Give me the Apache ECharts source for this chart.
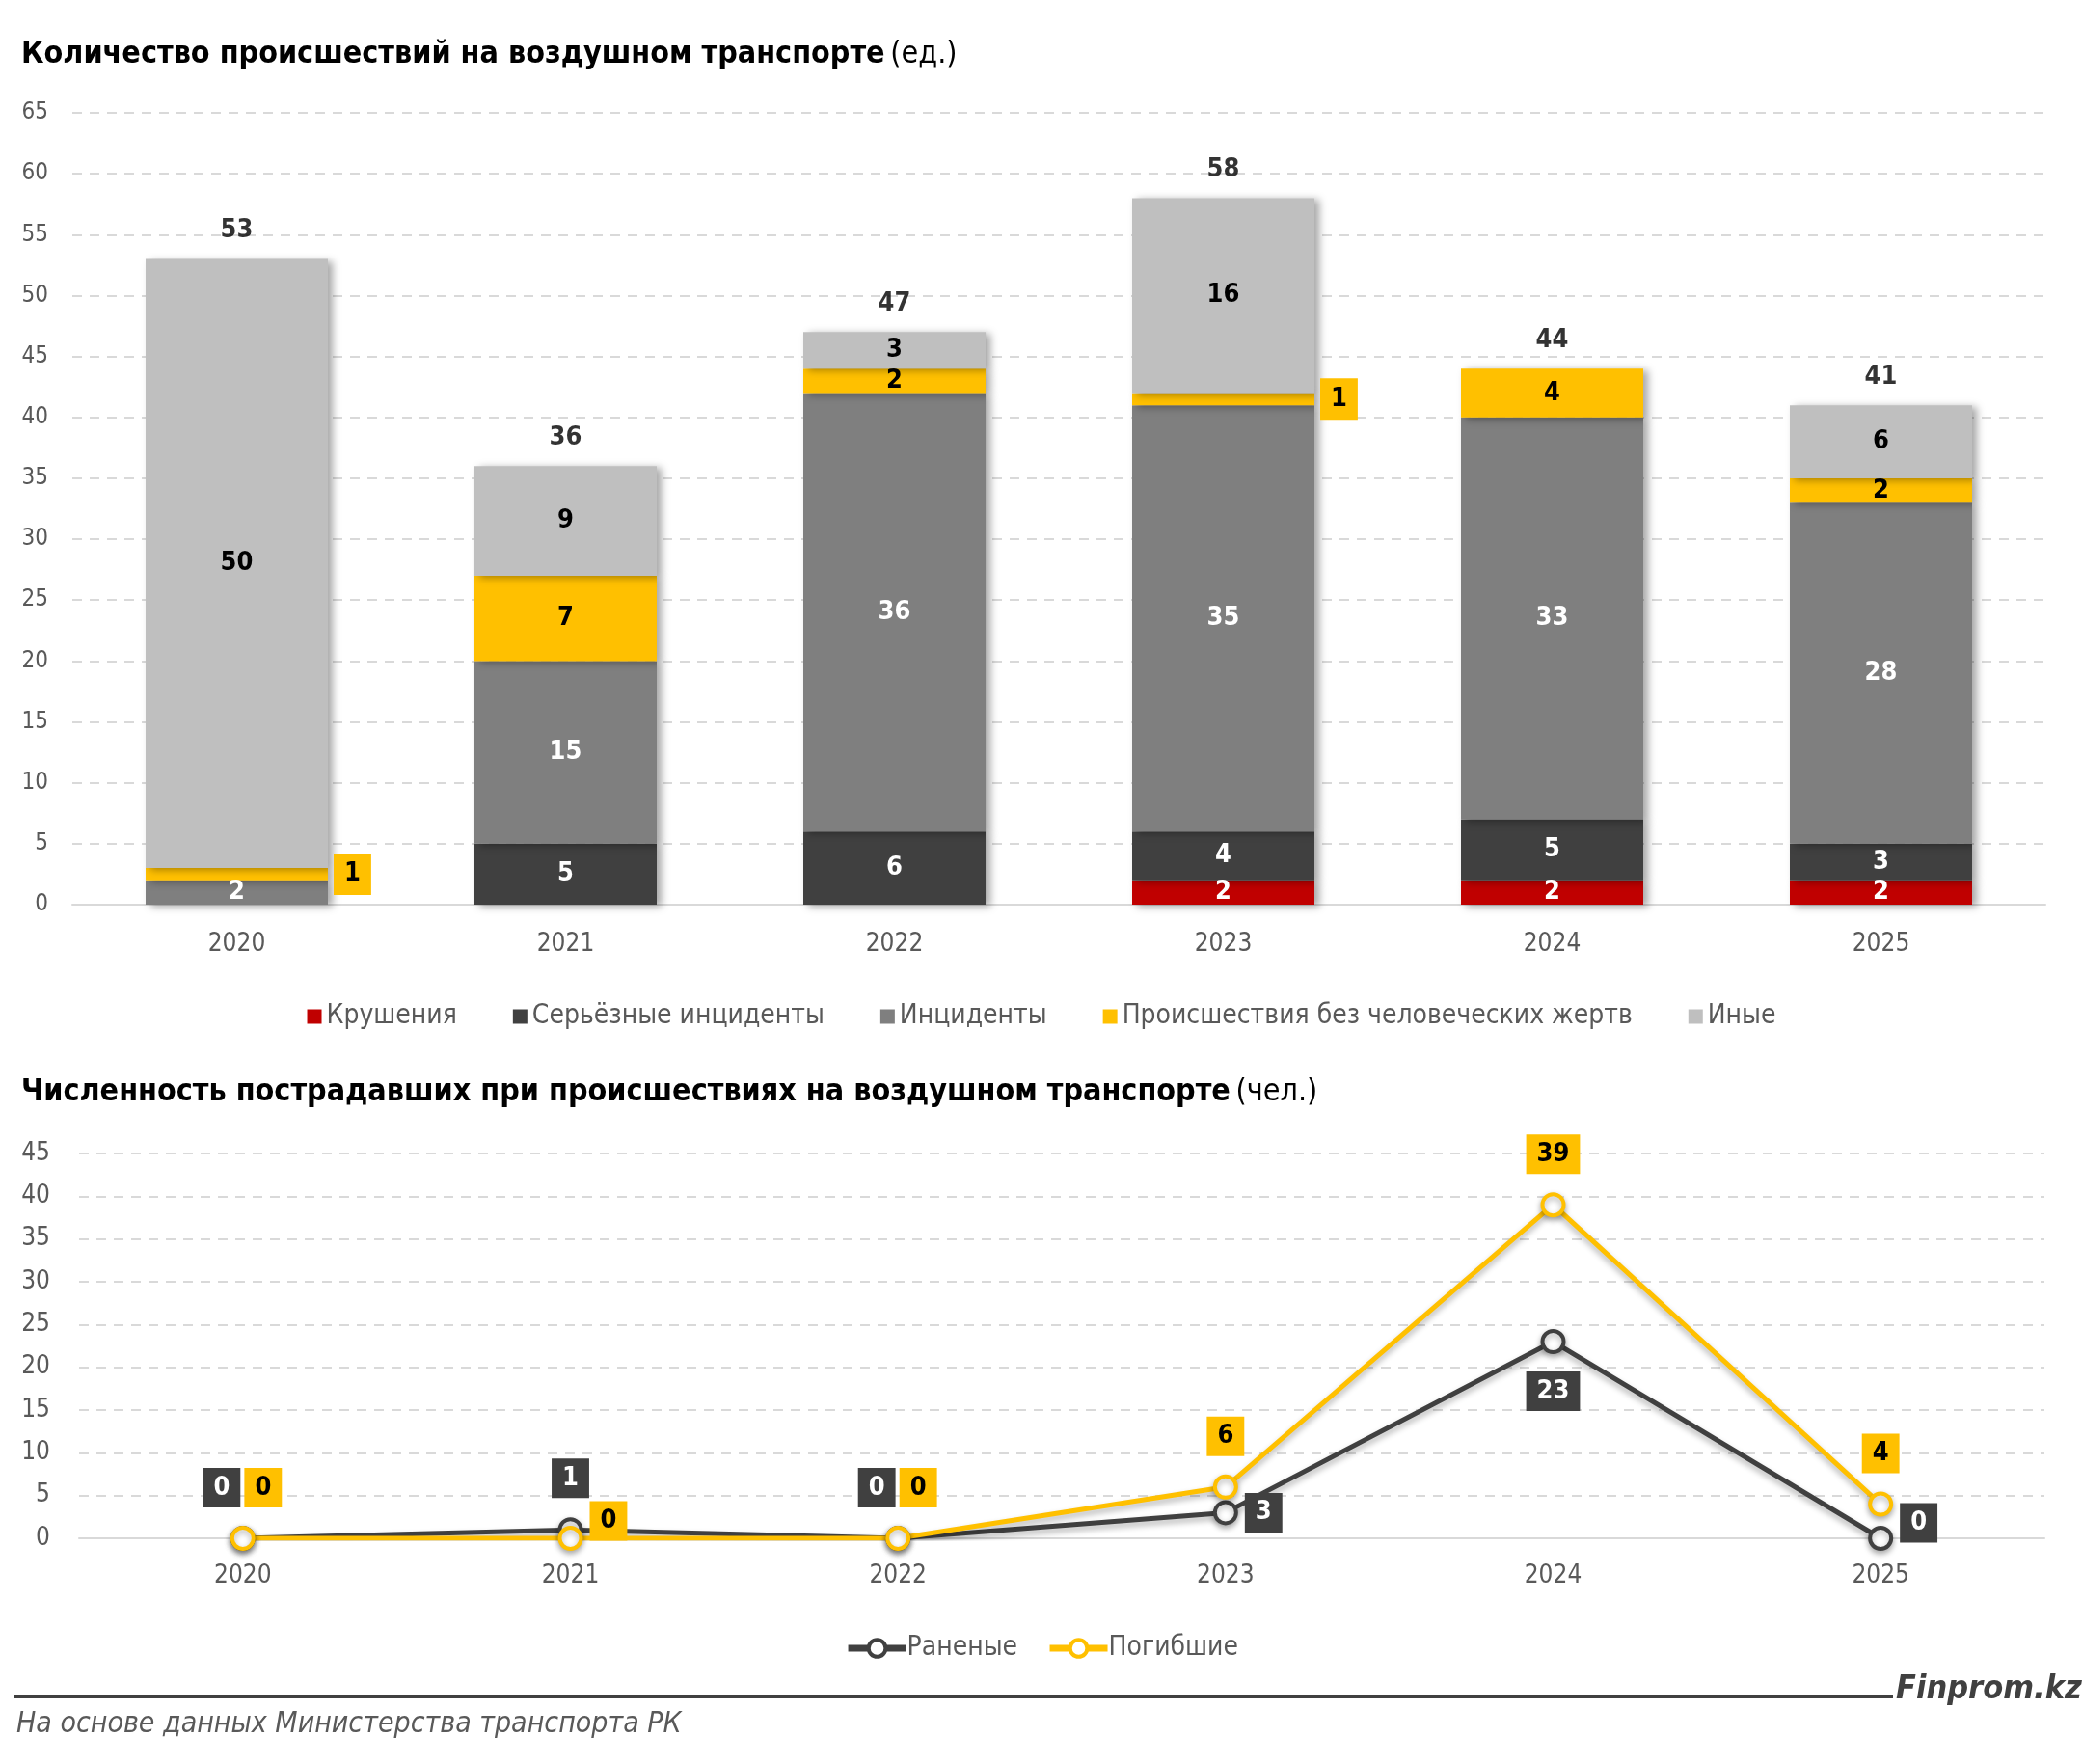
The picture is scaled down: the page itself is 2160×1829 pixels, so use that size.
<!DOCTYPE html>
<html>
<head>
<meta charset="utf-8">
<script src="https://cdn.jsdelivr.net/npm/echarts@6/dist/echarts.min.js"></script>
<style>
html,body{margin:0;padding:0;background:#fff;}
#c{width:2160px;height:1829px;}
</style>
</head>
<body>
<div id="c"></div>
<script>
const years = ['2020','2021','2022','2023','2024','2025'];
const crashes = [0,0,0,2,2,2];
const seriousIncidents = [0,5,6,4,5,3];
const incidents = [2,15,36,35,33,28];
const noCasualties = [1,7,2,1,4,2];
const others = [50,9,3,16,0,6];
const totals = [53,36,47,58,44,41];
const injured = [0,1,0,3,23,0];
const killed = [0,0,0,6,39,4];
const barTicks = {min:0,max:65,interval:5};
const lineTicks = {min:0,max:45,interval:5};

const FONT = '"Liberation Sans Narrow","DejaVu Sans Condensed","Open Sans",sans-serif';
const GRAY = '#595959';
const C_RED='#C00000', C_DARK='#404040', C_MID='#7F7F7F', C_YEL='#FFC000', C_LIGHT='#BFBFBF';

const shadow = {shadowColor:'rgba(0,0,0,0.35)', shadowBlur:8, shadowOffsetX:5, shadowOffsetY:2};
function barSeries(name, data, color, txtColor, extra){
  return {
    name, type:'bar', stack:'a', xAxisIndex:0, yAxisIndex:0, barWidth:189,
    data: data.map((v,i)=> (extra && extra[i]) ? {value:v, label:extra[i]} : v),
    itemStyle:Object.assign({color}, shadow),
    label:{show:true, position:'inside', color:txtColor, fontFamily:FONT, fontWeight:'bold', fontSize:27,
      formatter:p=> p.value>0 ? p.value : ''},
    emphasis:{disabled:true}
  };
}
const outsideYellow = {position:'right', distance:6, backgroundColor:C_YEL, color:'#000', padding:[8,11]};
const noCasExtra = [outsideYellow,null,null,outsideYellow,null,null];

const injLabelPos = [
  {position:'top', offset:[-22,0], distance:19},
  {position:'top', distance:20},
  {position:'top', offset:[-22,0], distance:19},
  {position:'right', distance:7},
  {position:'bottom', distance:18},
  {position:'right', offset:[0,-16], distance:7}
];
const kilLabelPos = [
  {position:'top', offset:[21,0], distance:19},
  {position:'right', offset:[0,-18], distance:7},
  {position:'top', offset:[21,0], distance:19},
  {position:'top', distance:19},
  {position:'top', distance:19},
  {position:'top', distance:19}
];
function lineSeries(name, data, color, boxColor, txtColor, pos){
  return {
    name, type:'line', xAxisIndex:1, yAxisIndex:1,
    data: data.map((v,i)=>({value:v, label:pos[i]})),
    symbol:'circle', symbolSize:22,
    lineStyle:{color, width:5, shadowColor:'rgba(0,0,0,0.3)', shadowBlur:6, shadowOffsetY:4},
    itemStyle:{color:'#fff', borderColor:color, borderWidth:4, shadowColor:'rgba(0,0,0,0.3)', shadowBlur:6, shadowOffsetY:3},
    label:{show:true, backgroundColor:boxColor, color:txtColor, fontFamily:FONT, fontWeight:'bold', fontSize:27, padding:[7,11]},
    emphasis:{disabled:true}
  };
}

const titleRich = {
  b:{fontFamily:FONT, fontSize:32, fontWeight:'bold', color:'#000'},
  n:{fontFamily:FONT, fontSize:32, fontWeight:'normal', color:'#000'}
};

const chart = echarts.init(document.getElementById('c'));
const axisLbl = {color:GRAY, fontFamily:FONT, fontSize:26};
chart.setOption({
  animation:false,
  backgroundColor:'#fff',
  textStyle:{fontFamily:FONT},
  title:[
    {text:'{b|Количество происшествий на воздушном транспорте} {n|(ед.)}', left:17, top:36,
     textStyle:{rich:titleRich}},
    {text:'{b|Численность пострадавших при происшествиях на воздушном транспорте} {n|(чел.)}', left:17, top:1112,
     textStyle:{rich:titleRich}}
  ],
  graphic:[
    {type:'line', shape:{x1:14,y1:1759,x2:1963,y2:1759}, style:{stroke:'#404040', lineWidth:4}},
    {type:'text', x:1966, y:1752, style:{text:'Finprom.kz', fill:'#404040', font:'italic bold 34px '+FONT, textVerticalAlign:'middle'}},
    {type:'text', x:17, y:1788, style:{text:'На основе данных Министерства транспорта РК', fill:GRAY, font:'italic 30px '+FONT, textVerticalAlign:'middle'}}
  ],
  legend:[
    {data:['Крушения','Серьёзные инциденты','Инциденты','Происшествия без человеческих жертв','Иные'],
     left:'center', top:1035, icon:'rect', itemWidth:15, itemHeight:15, itemGap:58,
     textStyle:{color:GRAY, fontFamily:FONT, fontSize:28, padding:[0,0,0,0]}},
    {data:['Раненые','Погибшие'], left:'center', top:1690, itemWidth:60, itemHeight:22, itemGap:30,
     lineStyle:{width:7}, itemStyle:{borderWidth:4},
     textStyle:{color:GRAY, fontFamily:FONT, fontSize:28, padding:[0,0,0,-4]}}
  ],
  grid:[
    {left:75, right:39, top:117, bottom:891, containLabel:false},
    {left:82, right:40, top:1196, bottom:234, containLabel:false}
  ],
  xAxis:[
    {type:'category', gridIndex:0, data:years, axisTick:{show:false},
     axisLine:{lineStyle:{color:'#D9D9D9', width:2}}, axisLabel:Object.assign({margin:28}, axisLbl)},
    {type:'category', gridIndex:1, data:years, axisTick:{show:false},
     axisLine:{lineStyle:{color:'#D9D9D9', width:2}}, axisLabel:Object.assign({margin:26}, axisLbl)}
  ],
  yAxis:[
    {type:'value', gridIndex:0, min:barTicks.min, max:barTicks.max, interval:barTicks.interval,
     axisLabel:Object.assign({margin:25}, axisLbl, {fontSize:24}),
     splitLine:{lineStyle:{color:'#D9D9D9', type:[10,8], width:2}}},
    {type:'value', gridIndex:1, min:lineTicks.min, max:lineTicks.max, interval:lineTicks.interval,
     axisLabel:Object.assign({margin:30}, axisLbl),
     splitLine:{lineStyle:{color:'#D9D9D9', type:[10,8], width:2}}}
  ],
  series:[
    barSeries('Крушения', crashes, C_RED, '#fff'),
    barSeries('Серьёзные инциденты', seriousIncidents, C_DARK, '#fff'),
    barSeries('Инциденты', incidents, C_MID, '#fff'),
    barSeries('Происшествия без человеческих жертв', noCasualties, C_YEL, '#000', noCasExtra),
    barSeries('Иные', others, C_LIGHT, '#000'),
    {name:'total', type:'scatter', xAxisIndex:0, yAxisIndex:0, data:totals, symbolSize:0,
     label:{show:true, position:'top', distance:16, color:'#000', fontFamily:FONT, fontWeight:'bold', fontSize:27},
     emphasis:{disabled:true}, z:5},
    lineSeries('Раненые', injured, C_DARK, C_DARK, '#fff', injLabelPos),
    lineSeries('Погибшие', killed, C_YEL, C_YEL, '#000', kilLabelPos)
  ]
});
</script>
</body>
</html>
